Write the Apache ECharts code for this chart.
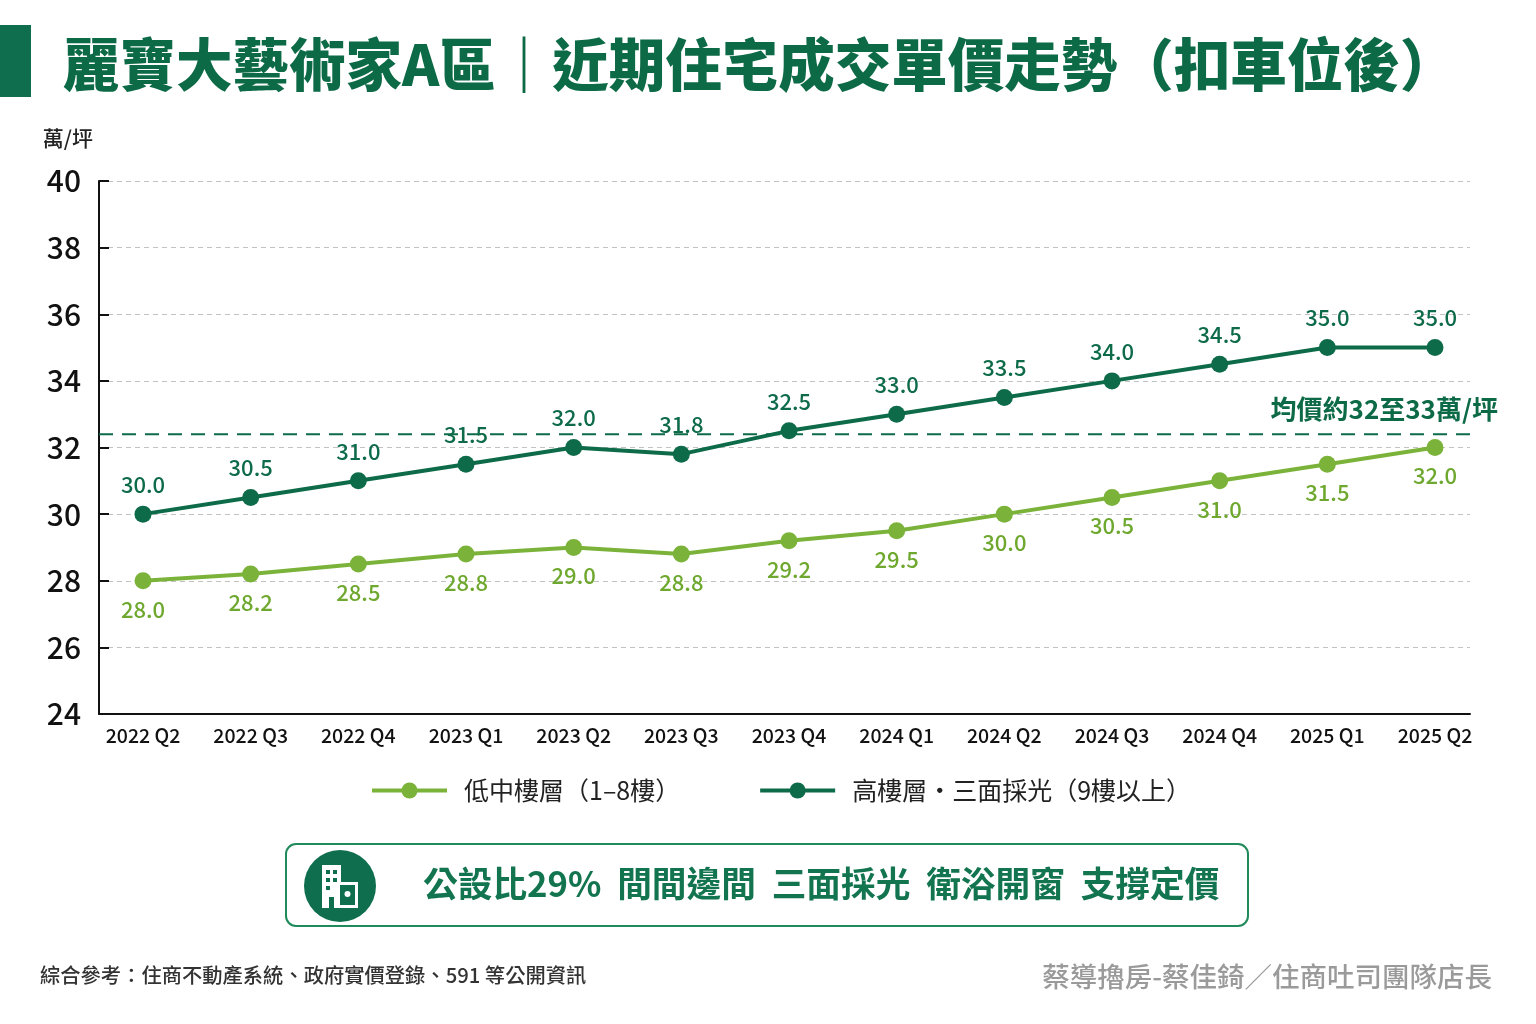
<!DOCTYPE html>
<html>
<head>
<meta charset="utf-8">
<title>麗寶大藝術家A區 近期住宅成交單價走勢</title>
<script src="https://cdn.jsdelivr.net/npm/echarts@6/dist/echarts.min.js"></script>
<style>
  html, body { margin: 0; padding: 0; background: #fff; }
  #main { width: 1536px; height: 1024px; }
</style>
</head>
<body>
<div id="main"></div>
<script>
// 季度
const quarters = ['2022 Q2', '2022 Q3', '2022 Q4', '2023 Q1', '2023 Q2', '2023 Q3', '2023 Q4',
  '2024 Q1', '2024 Q2', '2024 Q3', '2024 Q4', '2025 Q1', '2025 Q2'];
// 低中樓層 (1-8樓)
const lowFloor = [28.0, 28.2, 28.5, 28.8, 29.0, 28.8, 29.2, 29.5, 30.0, 30.5, 31.0, 31.5, 32.0];
// 高樓層 三面採光 (9樓以上)
const highFloor = [30.0, 30.5, 31.0, 31.5, 32.0, 31.8, 32.5, 33.0, 33.5, 34.0, 34.5, 35.0, 35.0];
// 均價參考線
const avgPrice = 32.4;
const yTicks = { min: 24, max: 40, step: 2 };

const seriesNames = ['低中樓層（1–8樓）', '高樓層・三面採光（9樓以上）'];
const darkGreen = '#0e6b4a';
const lightGreen = '#7bb33a';
const font = '"Noto Sans CJK TC", "Noto Sans", sans-serif';

const chart = echarts.init(document.getElementById('main'));

const option = {
  backgroundColor: '#ffffff',
  textStyle: { fontFamily: font },
  animation: false,
  title: {
    text: '麗寶大藝術家A區｜近期住宅成交單價走勢（扣車位後）',
    left: 58,
    top: 31,
    textStyle: { fontFamily: font, fontSize: 56.5, fontWeight: 900, color: '#0d6a46' }
  },
  legend: {
    data: seriesNames,
    left: 370,
    top: 778,
    padding: 0,
    itemWidth: 75,
    itemHeight: 20,
    itemGap: 78,
    lineStyle: { width: 4 },
    textStyle: { fontSize: 25, color: '#222', padding: [0, 0, 0, 12] }
  },
  grid: [
    { left: 99, right: 66, top: 181, bottom: 310 },
    { left: 143, right: 101, top: 181, bottom: 310 }
  ],
  xAxis: [
    {
      type: 'value', gridIndex: 0, min: 0, max: 1,
      axisLine: { show: true, lineStyle: { color: '#111', width: 2 } },
      axisTick: { show: false }, axisLabel: { show: false }, splitLine: { show: false }
    },
    {
      type: 'category', gridIndex: 1, data: quarters, boundaryGap: false,
      axisLine: { show: false }, axisTick: { show: false }, splitLine: { show: false },
      axisLabel: { fontSize: 19.5, color: '#111', fontWeight: 500, margin: 12 }
    }
  ],
  yAxis: [
    {
      type: 'value', gridIndex: 0, min: yTicks.min, max: yTicks.max, interval: yTicks.step,
      axisLine: { show: true, lineStyle: { color: '#111', width: 2 } },
      axisTick: { show: true, inside: true, length: 10, lineStyle: { color: '#111', width: 2 } },
      axisLabel: { fontSize: 30, fontWeight: 500, color: '#111', margin: 18 },
      splitLine: { show: true, lineStyle: { color: '#c2c2c2', type: [5, 4], width: 1 } },
      name: '萬/坪',
      nameLocation: 'end',
      nameGap: 32,
      nameTextStyle: { fontSize: 21, fontWeight: 500, color: '#222', align: 'right', padding: [0, 6, 0, 0] }
    },
    {
      type: 'value', gridIndex: 1, min: yTicks.min, max: yTicks.max, interval: yTicks.step,
      show: false
    }
  ],
  series: [
    {
      name: 'avg',
      type: 'line',
      xAxisIndex: 0, yAxisIndex: 0,
      data: [[0, avgPrice], [1, avgPrice]],
      symbol: 'none', silent: true,
      lineStyle: { color: darkGreen, width: 2, type: [14, 9] },
      z: 1
    },
    {
      name: seriesNames[0],
      type: 'line',
      xAxisIndex: 1, yAxisIndex: 1,
      data: lowFloor,
      symbol: 'circle', symbolSize: 17,
      color: lightGreen,
      lineStyle: { width: 4, color: lightGreen },
      itemStyle: { color: lightGreen },
      label: {
        show: true, position: 'bottom', distance: 9,
        fontSize: 22, fontWeight: 500, color: '#6ea82e',
        formatter: p => p.value.toFixed(1)
      },
      z: 3
    },
    {
      name: seriesNames[1],
      type: 'line',
      xAxisIndex: 1, yAxisIndex: 1,
      data: highFloor,
      symbol: 'circle', symbolSize: 17,
      color: darkGreen,
      lineStyle: { width: 4, color: darkGreen },
      itemStyle: { color: darkGreen },
      label: {
        show: true, position: 'top', distance: 10,
        fontSize: 22, fontWeight: 500, color: darkGreen,
        formatter: p => p.value.toFixed(1)
      },
      z: 4
    }
  ],
  graphic: [
    // 標題左側色塊
    { type: 'rect', left: 0, top: 25, shape: { width: 31, height: 72 }, style: { fill: '#0f6e4d' } },
    // 均價標註
    {
      type: 'text', right: 38, top: 396,
      style: { text: '均價約32至33萬/坪', font: 'bold 26px ' + font, fill: '#0d6a46' }
    },
    // 說明框
    {
      type: 'rect', left: 285, top: 843,
      shape: { width: 962, height: 82, r: 10 },
      style: { fill: '#fff', stroke: '#1f8a5a', lineWidth: 2 }
    },
    {
      type: 'circle', shape: { cx: 340, cy: 886, r: 36 }, style: { fill: '#0f6e4d' }
    },
    // 建築圖示
    {
      type: 'group',
      children: [
        { type: 'rect', shape: { x: 322, y: 865, width: 19, height: 43 }, style: { fill: '#fff' } },
        { type: 'rect', shape: { x: 326, y: 870, width: 4, height: 4 }, style: { fill: '#0f6e4d' } },
        { type: 'rect', shape: { x: 333, y: 870, width: 4, height: 4 }, style: { fill: '#0f6e4d' } },
        { type: 'rect', shape: { x: 326, y: 878, width: 4, height: 4 }, style: { fill: '#0f6e4d' } },
        { type: 'rect', shape: { x: 333, y: 878, width: 4, height: 4 }, style: { fill: '#0f6e4d' } },
        { type: 'rect', shape: { x: 326, y: 886, width: 4, height: 4 }, style: { fill: '#0f6e4d' } },
        { type: 'rect', shape: { x: 329, y: 897, width: 5, height: 11 }, style: { fill: '#0f6e4d' } },
        { type: 'rect', shape: { x: 337, y: 882, width: 21, height: 26 }, style: { fill: '#fff' } },
        { type: 'rect', shape: { x: 340, y: 885, width: 15, height: 20 }, style: { fill: '#0f6e4d' } },
        { type: 'circle', shape: { cx: 347.5, cy: 894, r: 3 }, style: { fill: '#fff' } }
      ]
    },
    {
      type: 'text', left: 423, top: 866,
      style: { text: '公設比29%  間間邊間  三面採光  衛浴開窗  支撐定價', font: 'bold 34.7px ' + font, fill: '#13754f' }
    },
    // 資料來源
    {
      type: 'text', left: 40, top: 965,
      style: { text: '綜合參考：住商不動產系統、政府實價登錄、591 等公開資訊', font: '500 20.3px ' + font, fill: '#333' }
    },
    {
      type: 'text', right: 44, top: 963,
      style: { text: '蔡導擼房-蔡佳錡／住商吐司團隊店長', font: '500 27.5px ' + font, fill: '#9a9a9a' }
    }
  ]
};

chart.setOption(option);
</script>
</body>
</html>
